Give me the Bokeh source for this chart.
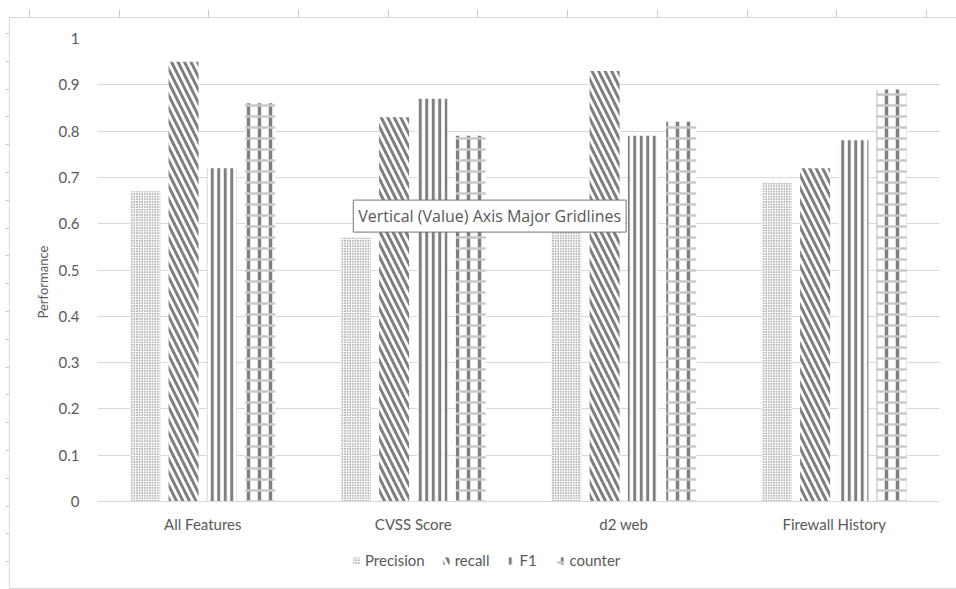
from bokeh.plotting import figure
from bokeh.models import (ColumnDataSource, FactorRange, Range1d, FixedTicker,
                          Legend, LegendItem, Label, Title)
from bokeh.transform import dodge
from bokeh.embed import file_html
from bokeh.resources import INLINE

# Data
categories = ["All Features", "CVSS Score", "d2 web", "Firewall History"]
precision = [0.67, 0.57, 0.60, 0.69]
recall = [0.95, 0.83, 0.93, 0.72]
f1 = [0.72, 0.87, 0.79, 0.78]
counter = [0.86, 0.79, 0.82, 0.89]
y_ticks = [0, 0.1, 0.2, 0.3, 0.4, 0.5, 0.6, 0.7, 0.8, 0.9, 1]
y_tick_labels = ["0", "0.1", "0.2", "0.3", "0.4", "0.5", "0.6", "0.7", "0.8", "0.9", "1"]

FONT = "Lato"
TEXT = "#595959"
GRID = "#d9d9d9"
HATCH = "#7f7f7f"

src = ColumnDataSource(dict(cat=categories, precision=precision, recall=recall,
                            f1=f1, counter=counter))

# The frame runs down to the bottom edge so the category labels and the
# legend sit inside it; the value axis still spans 0..1.
p = figure(width=956, height=589, output_backend="svg", toolbar_location=None,
           x_range=FactorRange(*categories), y_range=Range1d(-88 / 463, 1),
           min_border_left=97, min_border_right=17, min_border_top=38,
           min_border_bottom=0)
p.outline_line_color = None
p.background_fill_alpha = 0
p.border_fill_alpha = 0

# Chart-area edge and the ruler marks along the top and left, painted
# behind the (transparent) canvas with CSS gradients.
line = "linear-gradient(#d9d9d9, #d9d9d9)"
mark = "linear-gradient(#c8c8c8, #c8c8c8)"
images, positions, sizes = [], [], []
for pos, size in [("9px 17px", "947px 1px"), ("9px 17px", "1px 572px"),
                  ("9px 588px", "947px 1px")]:
    images.append(line); positions.append(pos); sizes.append(size)
for k in range(11):
    images.append(mark)
    positions.append(f"{29 + round(k * 89.7)}px 10px")
    sizes.append("1px 7px")
for k in range(20):
    images.append(mark)
    positions.append(f"6px {33 + round(k * 27.8)}px")
    sizes.append("3px 1px")
p.styles = {
    "background-color": "white",
    "background-image": ", ".join(images),
    "background-repeat": "no-repeat",
    "background-position": ", ".join(positions),
    "background-size": ", ".join(sizes),
}

bar_w = 0.1425
common = dict(source=src, width=bar_w, fill_color="white", line_color=None)

r_p = p.vbar(x=dodge("cat", -0.273, range=p.x_range), top="precision",
             hatch_pattern="dot", hatch_color="#4a4a4a", hatch_scale=2.6,
             hatch_weight=1.6, **common)
r_r = p.vbar(x=dodge("cat", -0.091, range=p.x_range), top="recall",
             hatch_pattern="left_diagonal_line", hatch_color=HATCH,
             hatch_scale=13, hatch_weight=3, **common)
r_f = p.vbar(x=dodge("cat", 0.091, range=p.x_range), top="f1",
             hatch_pattern="vertical_line", hatch_color=HATCH,
             hatch_scale=6.5, hatch_weight=3, **common)
r_c1 = p.vbar(x=dodge("cat", 0.273, range=p.x_range), top="counter",
              hatch_pattern="vertical_line", hatch_color=HATCH,
              hatch_scale=11, hatch_weight=3.5, **common)
r_c2 = p.vbar(x=dodge("cat", 0.273, range=p.x_range), top="counter",
              source=src, width=bar_w, fill_alpha=0, line_color=None,
              hatch_pattern="horizontal_line", hatch_color="#c8c8c8",
              hatch_scale=11, hatch_weight=2.5)

# Axes and grid
p.xgrid.grid_line_color = None
p.ygrid.grid_line_color = GRID
p.ygrid.ticker = FixedTicker(ticks=y_ticks)

p.yaxis.ticker = FixedTicker(ticks=y_ticks)
p.yaxis.major_label_overrides = {t: s for t, s in zip(y_ticks, y_tick_labels)}
p.yaxis.axis_line_color = None
p.yaxis.major_tick_line_color = None
p.yaxis.minor_tick_line_color = None
p.yaxis.major_label_standoff = 12

# Category axis pinned to the zero line
p.xaxis.fixed_location = 0
p.xaxis.axis_line_color = GRID
p.xaxis.major_tick_line_color = None
p.xaxis.minor_tick_line_color = None
p.xaxis.major_label_standoff = 7

for ax in (p.xaxis, p.yaxis):
    ax.major_label_text_font = FONT
    ax.major_label_text_font_size = "15px"
    ax.major_label_text_color = TEXT

# Value axis title
p.add_layout(Title(text="Performance", align="left", offset=271,
                   text_font=FONT, text_font_size="13px",
                   text_font_style="normal", text_color=TEXT, standoff=9),
             "left")

# Legend under the category labels
legend = Legend(items=[
    LegendItem(label="Precision", renderers=[r_p]),
    LegendItem(label="recall", renderers=[r_r]),
    LegendItem(label="F1", renderers=[r_f]),
    LegendItem(label="counter", renderers=[r_c1, r_c2]),
], orientation="horizontal", location=(255, 20), border_line_color=None,
    background_fill_alpha=0, glyph_width=8, glyph_height=9, spacing=17,
    label_text_font=FONT, label_text_font_size="15px", label_text_color=TEXT,
    label_standoff=5, padding=0, margin=0)
p.add_layout(legend, "center")

# Hover tip over the gridlines
p.add_layout(Label(x=1.215, y=0.651, text="Vertical (Value) Axis Major Gridlines",
                   text_align="left", text_baseline="top",
                   text_font="Open Sans", text_font_size="16px",
                   text_color="#575757", background_fill_color="white",
                   border_line_color="#767676", padding=5))

open("out.html", "w").write(file_html(p, INLINE))
